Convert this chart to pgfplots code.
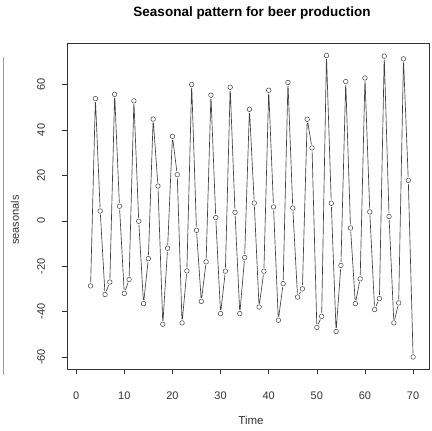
\documentclass[border=0pt]{standalone}
\usepackage{fontspec}
\setmainfont{Liberation Sans}
\usepackage{pgfplots}
\usepackage{pgfplotstable}
\pgfplotsset{compat=1.18}

% seasonal component, one value per time step
\pgfplotstableread{
t s
3 -28.7
4 53.8
5 4.3
6 -32.5
7 -27.0
8 55.7
9 6.4
10 -32.0
11 -25.9
12 52.8
13 -0.2
14 -36.5
15 -16.7
16 44.8
17 15.3
18 -45.6
19 -12.1
20 37.2
21 20.3
22 -45.0
23 -22.1
24 60.0
25 -4.2
26 -35.5
27 -18.1
28 55.3
29 1.4
30 -40.9
31 -22.2
32 58.8
33 3.7
34 -40.9
35 -16.2
36 49.1
37 7.8
38 -38.0
39 -22.2
40 57.5
41 6.1
42 -43.8
43 -27.7
44 60.9
45 5.6
46 -33.6
47 -30.0
48 44.7
49 32.1
50 -47.0
51 -42.1
52 72.8
53 7.7
54 -48.8
55 -19.7
56 61.3
57 -3.2
58 -36.5
59 -25.6
60 62.9
61 3.9
62 -39.1
63 -34.3
64 72.5
65 1.9
66 -45.0
67 -36.2
68 71.3
69 17.8
70 -60.0
}\seasonals

\begin{document}
\begin{tikzpicture}
\path[use as bounding box] (-67pt,-62pt) rectangle (365pt,369pt);
\begin{axis}[
    at={(0pt,0pt)}, anchor=south west,
    scale only axis,
    width=362pt, height=326pt,
    xmin=-1.9, xmax=73.3,
    ymin=-65.3, ymax=78.3,
    xtick={0,10,...,70},
    ytick={-60,-40,...,60},
    tick align=outside,
    major tick length=5pt,
    tick style={black!80, line width=0.5pt},
    axis line style={black!80, line width=0.6pt},
    xtick pos=bottom, ytick pos=left,
    /pgf/number format/assume math mode=true,
    tick label style={font=\fontsize{11}{13}\selectfont, text=black!80},
    xticklabel style={anchor=center, yshift=-22pt},
    yticklabel style={anchor=center, xshift=-21pt, rotate=90},
    clip=false,
]
\addplot[black!75, line width=0.65pt] table[x=t, y=s] {\seasonals};
\addplot[only marks, mark=*, mark size=3.3pt, mark options={fill=white, draw=white}] table[x=t, y=s] {\seasonals};
\addplot[only marks, mark=o, mark size=2.3pt, mark options={draw=black!75, line width=0.5pt}] table[x=t, y=s] {\seasonals};
\end{axis}
\node[font=\bfseries\fontsize{13.5}{15}\selectfont] at (185pt,356pt) {Seasonal pattern for beer production};
\node[font=\fontsize{11.5}{13}\selectfont, text=black!80] at (184pt,-51pt) {Time};
\node[font=\fontsize{11}{13}\selectfont, text=black!80, rotate=90] at (-52pt,149pt) {seasonals};
\draw[black!40, line width=0.6pt] (-64pt,-6pt) -- (-64pt,312pt);
\end{tikzpicture}
\end{document}
